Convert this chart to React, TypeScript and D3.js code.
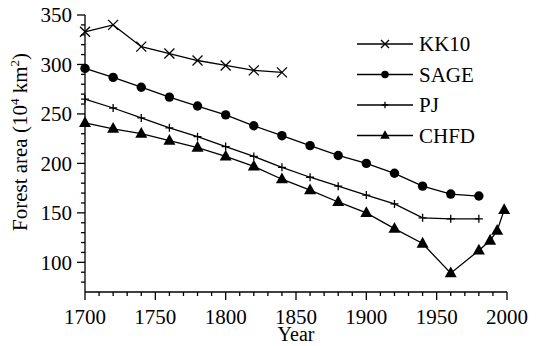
import React, { useEffect, useRef } from 'react';
import * as d3 from 'd3';

const kk10Years = [1700, 1720, 1740, 1760, 1780, 1800, 1820, 1840];
const kk10Values = [333, 340, 318, 311, 304, 299, 294, 292];

const sageYears = [1700, 1720, 1740, 1760, 1780, 1800, 1820, 1840, 1860, 1880, 1900, 1920, 1940, 1960, 1980];
const sageValues = [296, 287, 277, 267, 258, 249, 238, 228, 218, 208, 200, 190, 177, 169, 167];

const pjYears = [1700, 1720, 1740, 1760, 1780, 1800, 1820, 1840, 1860, 1880, 1900, 1920, 1940, 1960, 1980];
const pjValues = [265, 256, 246, 236, 227, 217, 207, 196, 186, 177, 168, 159, 145, 144, 144];

const chfdYears = [1700, 1720, 1740, 1760, 1780, 1800, 1820, 1840, 1860, 1880, 1900, 1920, 1940, 1960, 1980, 1988, 1993, 1998];
const chfdValues = [241, 235, 230, 223, 216, 207, 197, 184, 173, 161, 150, 134, 119, 89, 112, 122, 132, 153];

const xTicks = [1700, 1750, 1800, 1850, 1900, 1950, 2000];
const yTicks = [100, 150, 200, 250, 300, 350];

const legendNames = ['KK10', 'SAGE', 'PJ', 'CHFD'];

type Marker = 'cross' | 'circle' | 'plus' | 'triangle';

const App: React.FC = () => {
  const svgRef = useRef<SVGSVGElement>(null);

  useEffect(() => {
    if (!svgRef.current) return;
    document.body.style.margin = '0';

    const svg = d3.select(svgRef.current);
    svg.selectAll('*').remove();

    const x = d3.scaleLinear().domain([1700, 2000]).range([85, 507]);
    const y = d3.scaleLinear().domain([70, 350]).range([292, 15]);

    // axes
    const axes = svg.append('g').attr('stroke', '#000').attr('stroke-width', 1.3);
    axes.append('line').attr('x1', x(1700)).attr('x2', x(1700)).attr('y1', y(70)).attr('y2', y(350));
    axes.append('line').attr('x1', x(1700)).attr('x2', x(2000)).attr('y1', y(70)).attr('y2', y(70));

    // ticks every 10, long ones every 50
    axes.selectAll('.ymin')
      .data(d3.range(80, 351, 10))
      .enter()
      .append('line')
      .attr('x1', x(1700))
      .attr('x2', d => x(1700) - (d % 50 === 0 ? 8 : 4))
      .attr('y1', d => y(d))
      .attr('y2', d => y(d));

    axes.selectAll('.xmin')
      .data(d3.range(1700, 2001, 10))
      .enter()
      .append('line')
      .attr('x1', d => x(d))
      .attr('x2', d => x(d))
      .attr('y1', y(70))
      .attr('y2', d => y(70) + (d % 50 === 0 ? 8 : 4));

    // tick labels
    svg.append('g')
      .selectAll('text')
      .data(yTicks)
      .enter()
      .append('text')
      .attr('x', 72)
      .attr('y', d => y(d))
      .attr('dy', '0.35em')
      .attr('text-anchor', 'end')
      .text(d => d);

    svg.append('g')
      .selectAll('text')
      .data(xTicks)
      .enter()
      .append('text')
      .attr('x', d => x(d))
      .attr('y', 324)
      .attr('text-anchor', 'middle')
      .text(d => d);

    // axis titles
    svg.append('text')
      .attr('x', x(1850))
      .attr('y', 341)
      .attr('font-size', 20)
      .attr('text-anchor', 'middle')
      .text('Year');

    const yl = svg.append('text')
      .attr('transform', 'translate(27,142) rotate(-90)')
      .attr('text-anchor', 'middle');
    yl.append('tspan').text('Forest area (10');
    yl.append('tspan').attr('dy', -8).attr('font-size', 13).text('4');
    yl.append('tspan').attr('dy', 8).text(' km');
    yl.append('tspan').attr('dy', -8).attr('font-size', 13).text('2');
    yl.append('tspan').attr('dy', 8).text(')');

    const drawMarker = (g: d3.Selection<SVGGElement, unknown, null, undefined>, type: Marker, cx: number, cy: number, s: number) => {
      if (type === 'cross') {
        g.append('path')
          .attr('d', `M${cx - s},${cy - s}L${cx + s},${cy + s}M${cx - s},${cy + s}L${cx + s},${cy - s}`)
          .attr('stroke', '#000').attr('stroke-width', 1.3).attr('fill', 'none');
      } else if (type === 'circle') {
        g.append('circle').attr('cx', cx).attr('cy', cy).attr('r', s).attr('fill', '#000');
      } else if (type === 'plus') {
        g.append('path')
          .attr('d', `M${cx - s},${cy}L${cx + s},${cy}M${cx},${cy - s}L${cx},${cy + s}`)
          .attr('stroke', '#000').attr('stroke-width', 1.3).attr('fill', 'none');
      } else {
        const h = s * 1.8;
        g.append('path')
          .attr('d', `M${cx},${cy - h * 0.62}L${cx + s},${cy + h * 0.38}L${cx - s},${cy + h * 0.38}Z`)
          .attr('fill', '#000');
      }
    };

    const series: { years: number[]; values: number[]; marker: Marker; size: number }[] = [
      { years: kk10Years, values: kk10Values, marker: 'cross', size: 5 },
      { years: sageYears, values: sageValues, marker: 'circle', size: 4.7 },
      { years: pjYears, values: pjValues, marker: 'plus', size: 4 },
      { years: chfdYears, values: chfdValues, marker: 'triangle', size: 6 },
    ];

    const line = d3.line<[number, number]>().x(d => x(d[0])).y(d => y(d[1]));

    series.forEach(s => {
      const pts = s.years.map((yr, i) => [yr, s.values[i]] as [number, number]);
      svg.append('path')
        .attr('d', line(pts) as string)
        .attr('fill', 'none')
        .attr('stroke', '#000')
        .attr('stroke-width', 1.3);
      const g = svg.append('g');
      pts.forEach(p => drawMarker(g, s.marker, x(p[0]), y(p[1]), s.size));
    });

    // legend
    const legendY = d3.scaleLinear().domain([0, 3]).range([44, 135.5]);
    legendNames.forEach((name, i) => {
      const ly = legendY(i);
      const g = svg.append('g');
      g.append('line')
        .attr('x1', 357).attr('x2', 413).attr('y1', ly).attr('y2', ly)
        .attr('stroke', '#000').attr('stroke-width', 1.3);
      drawMarker(g, series[i].marker, 385, ly, series[i].size * 0.8);
      g.append('text')
        .attr('x', 419)
        .attr('y', ly)
        .attr('dy', '0.35em')
        .text(name);
    });
  }, []);

  return (
    <svg
      ref={svgRef}
      width={538}
      height={346}
      fontFamily="'Liberation Serif', serif"
      fontSize={21}
      style={{ display: 'block', background: '#fff' }}
    ></svg>
  );
};

export default App;
